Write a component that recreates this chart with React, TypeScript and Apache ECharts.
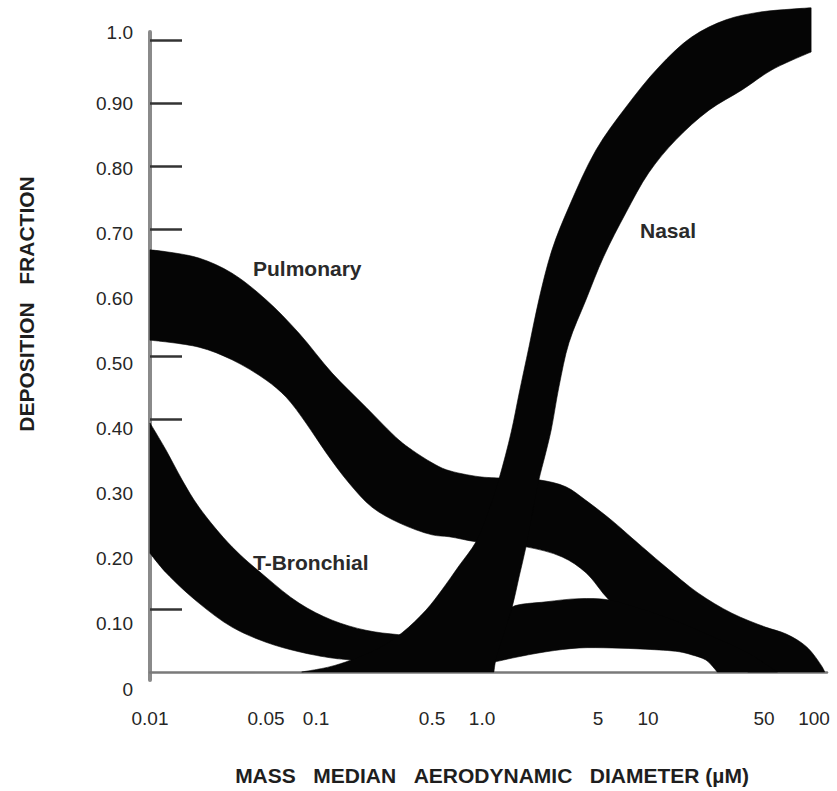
import React, { useEffect, useRef } from "react";
import * as echarts from "echarts";

// ---- axis ticks / labels ----
const xTickValues = [0.01, 0.05, 0.1, 0.5, 1, 5, 10, 50, 100];
const xTickLabels = ["0.01", "0.05", "0.1", "0.5", "1.0", "5", "10", "50", "100"];
const yTickValues = [0.1, 0.2, 0.3, 0.4, 0.5, 0.6, 0.7, 0.8, 0.9, 1.0];
const yLabelValues = [0, 0.1, 0.2, 0.3, 0.4, 0.5, 0.6, 0.7, 0.8, 0.9, 1.0];
const yLabelTexts = ["0", "0.10", "0.20", "0.30", "0.40", "0.50", "0.60", "0.70", "0.80", "0.90", "1.0"];

// ---- band outlines (diameter in µm, deposition fraction) ----
const pulmonaryUpperDiameter = [0.01, 0.0125, 0.0197, 0.0312, 0.05, 0.079, 0.125, 0.2, 0.316, 0.38, 0.5, 0.61, 0.96, 1.27, 2.2, 3.2, 4.2, 6.1, 8.0, 9.7, 12.8, 20, 32, 51, 68, 90, 112, 116];
const pulmonaryUpperFraction = [0.668, 0.665, 0.655, 0.631, 0.589, 0.536, 0.473, 0.419, 0.367, 0.351, 0.331, 0.32, 0.309, 0.307, 0.304, 0.293, 0.272, 0.239, 0.212, 0.193, 0.166, 0.125, 0.093, 0.071, 0.06, 0.04, 0.008, 0];
const pulmonaryLowerDiameter = [0.01, 0.0197, 0.0312, 0.05, 0.066, 0.087, 0.115, 0.158, 0.217, 0.316, 0.5, 0.633, 0.92, 1.3, 1.84, 3.04, 4.23, 5.82, 8.8, 14, 20, 30, 40];
const pulmonaryLowerFraction = [0.525, 0.514, 0.494, 0.462, 0.435, 0.394, 0.347, 0.299, 0.261, 0.236, 0.217, 0.214, 0.206, 0.202, 0.198, 0.182, 0.157, 0.114, 0.075, 0.05, 0.04, 0.02, 0];

const tBronchialUpperDiameter = [0.01, 0.0125, 0.0156, 0.0197, 0.0312, 0.05, 0.079, 0.125, 0.2, 0.316, 0.6, 1.0, 1.36, 1.52, 2.43, 3.84, 5.82, 9, 15, 25, 40, 60];
const tBronchialUpperFraction = [0.394, 0.351, 0.304, 0.261, 0.198, 0.15, 0.109, 0.082, 0.066, 0.059, 0.055, 0.07, 0.09, 0.103, 0.111, 0.116, 0.114, 0.1, 0.08, 0.055, 0.03, 0];
const tBronchialLowerDiameter = [0.01, 0.0125, 0.0197, 0.0312, 0.05, 0.079, 0.125, 0.163, 0.3, 0.6, 1.0, 1.2, 1.52, 2.43, 3.84, 6.07, 9.7, 15.4, 18.4, 22.3, 25, 26.1];
const tBronchialLowerFraction = [0.188, 0.157, 0.109, 0.071, 0.047, 0.032, 0.022, 0.019, 0.014, 0.012, 0.012, 0.016, 0.022, 0.032, 0.038, 0.038, 0.036, 0.032, 0.027, 0.019, 0.006, 0];

const nasalUpperDiameter = [0.082, 0.12, 0.163, 0.24, 0.33, 0.46, 0.574, 0.727, 0.92, 1.1, 1.27, 1.5, 1.67, 1.92, 2.2, 2.64, 3.34, 4.86, 7.37, 11.6, 18.4, 29.5, 46.6, 73.6, 96];
const nasalUpperFraction = [0, 0.008, 0.019, 0.038, 0.062, 0.098, 0.13, 0.168, 0.206, 0.256, 0.307, 0.38, 0.44, 0.515, 0.589, 0.668, 0.736, 0.826, 0.894, 0.957, 1.005, 1.032, 1.044, 1.049, 1.051];
const nasalLowerDiameter = [1.18, 1.21, 1.36, 1.52, 1.67, 1.84, 2.0, 2.2, 2.4, 2.61, 2.91, 3.34, 4.23, 5.4, 7.37, 10.1, 14.7, 23.3, 36.8, 55.9, 96];
const nasalLowerFraction = [0, 0.019, 0.062, 0.103, 0.15, 0.198, 0.248, 0.304, 0.343, 0.383, 0.452, 0.521, 0.589, 0.657, 0.727, 0.79, 0.842, 0.889, 0.921, 0.953, 0.981];

const bandNames = ["Pulmonary", "T-Bronchial", "Nasal"];

const FONT = '"Liberation Sans", Arial, Helvetica, sans-serif';

type Pt = [number, number];

function zip(d: number[], f: number[]): Pt[] {
  return d.map((v, i) => [Math.log10(v), f[i]] as Pt);
}

// centripetal Catmull-Rom through screen points, as cubic Bezier segments
function smoothSegments(pts: number[][]): string {
  const eps = 1e-9;
  let s = "";
  const dist = (a: number[], b: number[]) => Math.hypot(b[0] - a[0], b[1] - a[1]);
  for (let i = 0; i < pts.length - 1; i++) {
    const p0 = pts[i - 1] || pts[i];
    const p1 = pts[i];
    const p2 = pts[i + 1];
    const p3 = pts[i + 2] || p2;
    const l01a = Math.sqrt(dist(p0, p1));
    const l12a = Math.sqrt(dist(p1, p2));
    const l23a = Math.sqrt(dist(p2, p3));
    const l01 = l01a * l01a;
    const l12 = l12a * l12a;
    const l23 = l23a * l23a;
    let c1x = p1[0], c1y = p1[1], c2x = p2[0], c2y = p2[1];
    if (l01a > eps) {
      const a = 2 * l01 + 3 * l01a * l12a + l12;
      const n = 3 * l01a * (l01a + l12a);
      c1x = (p1[0] * a - p0[0] * l12 + p2[0] * l01) / n;
      c1y = (p1[1] * a - p0[1] * l12 + p2[1] * l01) / n;
    }
    if (l23a > eps) {
      const b = 2 * l23 + 3 * l23a * l12a + l12;
      const m = 3 * l23a * (l23a + l12a);
      c2x = (p2[0] * b + p1[0] * l23 - p3[0] * l12) / m;
      c2y = (p2[1] * b + p1[1] * l23 - p3[1] * l12) / m;
    }
    s += ` C${c1x.toFixed(2)},${c1y.toFixed(2)} ${c2x.toFixed(2)},${c2y.toFixed(2)} ${p2[0].toFixed(2)},${p2[1].toFixed(2)}`;
  }
  return s;
}

export default function App() {
  const ref = useRef<HTMLDivElement>(null);

  useEffect(() => {
    if (!ref.current) return;
    const chart = echarts.init(ref.current, null, { renderer: "svg" });

    const bands = [
      { upper: zip(pulmonaryUpperDiameter, pulmonaryUpperFraction), lower: zip(pulmonaryLowerDiameter, pulmonaryLowerFraction) },
      { upper: zip(tBronchialUpperDiameter, tBronchialUpperFraction), lower: zip(tBronchialLowerDiameter, tBronchialLowerFraction) },
      { upper: zip(nasalUpperDiameter, nasalUpperFraction), lower: zip(nasalLowerDiameter, nasalLowerFraction) },
    ];

    const series = bands.map((b, idx) => ({
      type: "custom",
      name: bandNames[idx],
      xAxisIndex: 0,
      yAxisIndex: 0,
      clip: false,
      silent: true,
      encode: { x: 0, y: 1 },
      data: [...b.upper, ...b.lower],
      renderItem: (params: any, api: any) => {
        if (params.dataIndex !== 0) return null;
        const up = b.upper.map((p) => api.coord(p));
        const lo = b.lower.map((p) => api.coord(p)).reverse();
        const d =
          `M${up[0][0].toFixed(2)},${up[0][1].toFixed(2)}` +
          smoothSegments(up) +
          ` L${lo[0][0].toFixed(2)},${lo[0][1].toFixed(2)}` +
          smoothSegments(lo) +
          " Z";
        return {
          type: "path",
          shape: { pathData: d },
          style: { fill: "#050505", stroke: "#050505", lineWidth: 0.6 },
        };
      },
    }));

    const textStyle = { fontFamily: FONT, fontSize: 19, color: "#262626" };

    const option: any = {
      animation: false,
      backgroundColor: "#ffffff",
      grid: [
        { left: 150, top: 32, width: 677, height: 648 },
        { left: 150, top: 38, width: 677, height: 651 },
      ],
      xAxis: [
        {
          gridIndex: 0,
          type: "value",
          min: -2,
          max: 2.078,
          axisLine: { show: true, onZero: true, lineStyle: { color: "#7a7a7a", width: 2.5 } },
          axisTick: { show: false },
          splitLine: { show: false },
          axisLabel: {
            ...textStyle,
            margin: 29,
            customValues: xTickValues.map((v) => Math.log10(v)),
            formatter: (val: number) => {
              const i = xTickValues.findIndex((t) => Math.abs(Math.log10(t) - val) < 1e-6);
              return i >= 0 ? xTickLabels[i] : "";
            },
          },
        },
        { gridIndex: 1, type: "value", min: -2, max: 2.078, show: false },
      ],
      yAxis: [
        {
          gridIndex: 0,
          type: "value",
          min: -0.0127,
          max: 1.0127,
          axisLine: { show: true, onZero: false, lineStyle: { color: "#8a8a8a", width: 4 } },
          axisTick: {
            show: true,
            inside: true,
            length: 32,
            customValues: yTickValues,
            lineStyle: { color: "#333333", width: 2.5 },
          },
          axisLabel: { show: false },
          splitLine: { show: false },
        },
        {
          gridIndex: 1,
          type: "value",
          min: 0,
          max: 1,
          axisLine: { show: false, onZero: false },
          axisTick: { show: false },
          splitLine: { show: false },
          axisLabel: {
            ...textStyle,
            margin: 17,
            customValues: yLabelValues,
            formatter: (val: number) => {
              const i = yLabelValues.findIndex((t) => Math.abs(t - val) < 1e-6);
              if (i < 0) return "";
              return i === yLabelValues.length - 1 ? `{up|${yLabelTexts[i]}}` : yLabelTexts[i];
            },
            rich: {
              up: { fontFamily: FONT, fontSize: 19, color: "#262626", padding: [0, 0, 12, 0] },
            },
          },
        },
      ],
      series,
      graphic: [
        {
          type: "text",
          x: 26,
          y: 304,
          rotation: Math.PI / 2,
          style: {
            text: "DEPOSITION\u00a0\u00a0\u00a0FRACTION",
            font: `bold 21px ${FONT}`,
            fill: "#1e1e1e",
            align: "center",
            verticalAlign: "middle",
          },
        },
        {
          type: "text",
          x: 492,
          y: 775,
          style: {
            text: "MASS\u00a0\u00a0\u00a0MEDIAN\u00a0\u00a0\u00a0AERODYNAMIC\u00a0\u00a0\u00a0DIAMETER (µM)",
            font: `bold 21px ${FONT}`,
            fill: "#1e1e1e",
            align: "center",
            verticalAlign: "middle",
          },
        },
        {
          type: "text",
          x: 253,
          y: 268,
          style: { text: "Pulmonary", font: `bold 21px ${FONT}`, fill: "#2a2a2a", align: "left", verticalAlign: "middle" },
        },
        {
          type: "text",
          x: 253,
          y: 562,
          style: { text: "T-Bronchial", font: `bold 21px ${FONT}`, fill: "#2a2a2a", align: "left", verticalAlign: "middle" },
        },
        {
          type: "text",
          x: 640,
          y: 230,
          style: { text: "Nasal", font: `bold 21px ${FONT}`, fill: "#2a2a2a", align: "left", verticalAlign: "middle" },
        },
      ],
    };

    chart.setOption(option);
    return () => chart.dispose();
  }, []);

  return (
    <div
      ref={ref}
      style={{ position: "fixed", left: 0, top: 0, width: 837, height: 791, background: "#fff" }}
    />
  );
}
